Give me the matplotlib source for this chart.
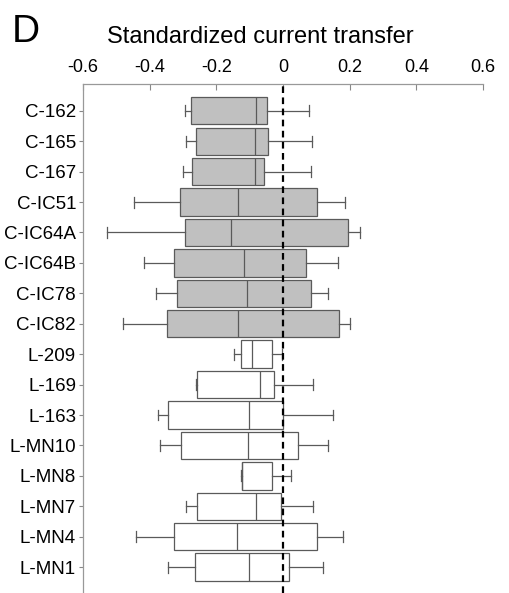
import numpy as np
import matplotlib
matplotlib.use("Agg")
import matplotlib.pyplot as plt

plt.rcParams['font.family'] = ['Liberation Sans', 'DejaVu Sans']

labels = ["C-162", "C-165", "C-167", "C-IC51", "C-IC64A", "C-IC64B", "C-IC78", "C-IC82",
          "L-209", "L-169", "L-163", "L-MN10", "L-MN8", "L-MN7", "L-MN4", "L-MN1"]
whislo = [-0.293, -0.291, -0.301, -0.448, -0.529, -0.417, -0.380, -0.480,
          -0.146, -0.260, -0.376, -0.368, -0.126, -0.291, -0.441, -0.346]
q1 = [-0.277, -0.262, -0.273, -0.309, -0.294, -0.327, -0.318, -0.349,
      -0.126, -0.259, -0.345, -0.305, -0.123, -0.259, -0.328, -0.263]
med = [-0.081, -0.084, -0.084, -0.136, -0.157, -0.118, -0.109, -0.136,
       -0.092, -0.070, -0.103, -0.106, -0.124, -0.082, -0.138, -0.102]
q3 = [-0.048, -0.045, -0.057, 0.102, 0.195, 0.068, 0.084, 0.167,
      -0.033, -0.027, 0.000, 0.046, -0.033, -0.006, 0.102, 0.019]
whishi = [0.077, 0.088, 0.085, 0.187, 0.232, 0.164, 0.134, 0.201,
          -0.002, 0.089, 0.150, 0.134, 0.023, 0.091, 0.179, 0.121]

stats = []
for i in range(len(labels)):
    stats.append(dict(label=labels[i], whislo=whislo[i], q1=q1[i], med=med[i],
                      q3=q3[i], whishi=whishi[i], fliers=[]))

fig = plt.figure(figsize=(5.09, 5.93), dpi=100)
ax = fig.add_axes([83/509, 0.0, 400/509, 1 - 84/593])

pos = np.arange(1, len(labels) + 1)
edge = '#5a5a5a'
bp = ax.bxp(stats, positions=pos, vert=False, widths=0.9, capwidths=0.36,
            patch_artist=True, showfliers=False,
            boxprops=dict(edgecolor=edge, linewidth=0.9),
            whiskerprops=dict(color=edge, linewidth=0.9),
            capprops=dict(color=edge, linewidth=0.9),
            medianprops=dict(color=edge, linewidth=0.9))
for lab, box in zip(labels, bp['boxes']):
    box.set_facecolor('#c0c0c0' if lab.startswith('C') else 'white')

ax.axvline(0, color='black', linestyle=(0, (3, 2)), linewidth=1.6, zorder=5)

ax.set_xlim(-0.6, 0.6)
ax.set_ylim(16.85, 0.12)
ax.set_xticks([-0.6, -0.4, -0.2, 0, 0.2, 0.4, 0.6])
ax.set_xticklabels(['-0.6', '-0.4', '-0.2', '0', '0.2', '0.4', '0.6'])
ax.xaxis.tick_top()
ax.tick_params(axis='x', direction='in', length=4, width=0.8, color='#888888',
               labelsize=13, pad=6)
ax.set_yticks(pos)
ax.set_yticklabels(labels)
ax.tick_params(axis='y', direction='out', length=3, width=0.8, color='#888888',
               labelsize=13.5, pad=2)
for s in ['bottom', 'right']:
    ax.spines[s].set_visible(False)
for s in ['top', 'left']:
    ax.spines[s].set_color('#999999')
    ax.spines[s].set_linewidth(0.9)

fig.text(260/509, 1 - 43/593, "Standardized current transfer", ha='center',
         va='baseline', fontsize=17)
fig.text(12/509, 1 - 42/593, "D", ha='left', va='baseline', fontsize=28)

fig.savefig("out.png", dpi=100)
